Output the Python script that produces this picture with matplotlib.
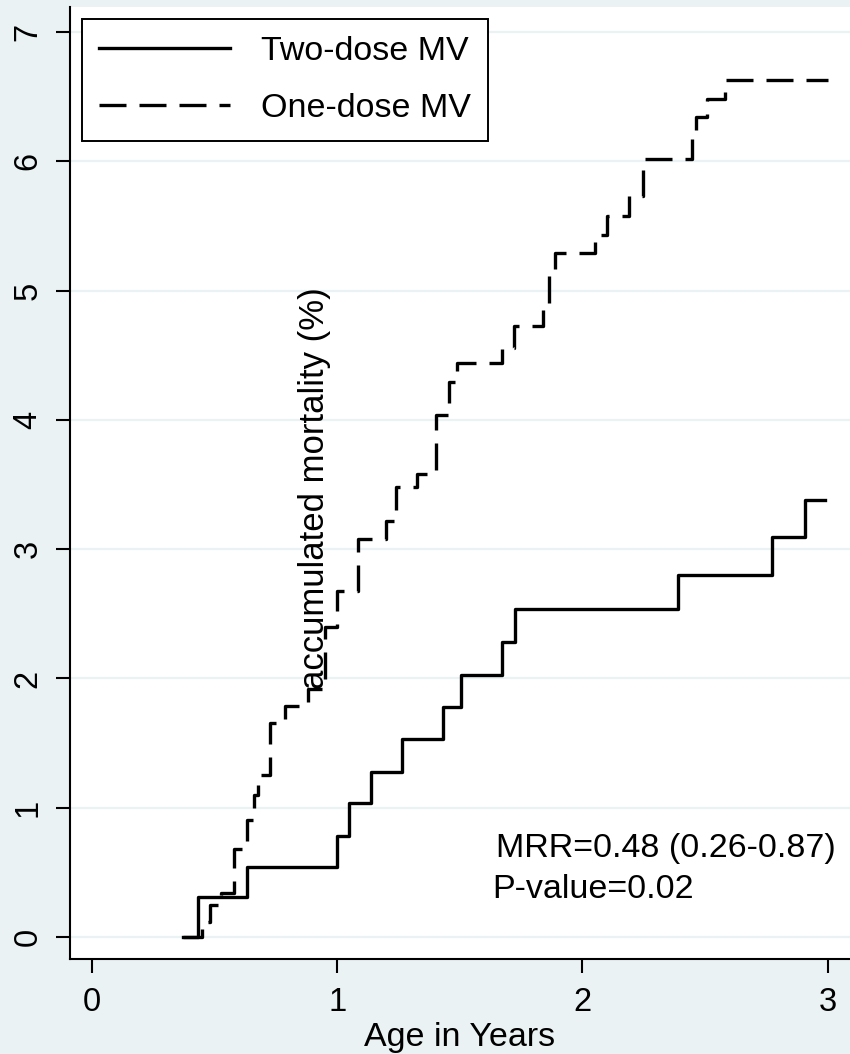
import matplotlib
matplotlib.use("Agg")
import matplotlib.pyplot as plt

# accumulated mortality (%) by age
two_dose_age = [0.37, 0.433, 0.632, 1.0, 1.048, 1.138, 1.264, 1.43, 1.505,
                1.672, 1.725, 2.39, 2.773, 2.908, 2.99]
two_dose_mort = [0, 0.31, 0.54, 0.78, 1.04, 1.28, 1.53, 1.78, 2.03,
                 2.28, 2.54, 2.80, 3.09, 3.38, 3.38]

one_dose_age = [0.37, 0.449, 0.482, 0.527, 0.578, 0.633, 0.660, 0.675, 0.725,
                0.788, 0.88, 0.948, 1.00, 1.085, 1.20, 1.24, 1.327, 1.404,
                1.457, 1.49, 1.67, 1.72, 1.84, 1.865, 1.89, 2.05, 2.10, 2.19,
                2.245, 2.445, 2.465, 2.506, 2.58, 3.0]
one_dose_mort = [0, 0.12, 0.25, 0.34, 0.68, 0.905, 1.10, 1.25, 1.655,
                 1.785, 1.92, 2.40, 2.68, 3.08, 3.22, 3.48, 3.58, 4.04,
                 4.29, 4.44, 4.555, 4.725, 4.86, 5.14, 5.29, 5.43, 5.575, 5.73,
                 6.02, 6.2, 6.34, 6.48, 6.63, 6.63]

x_ticks = [0, 1, 2, 3]
y_ticks = [0, 1, 2, 3, 4, 5, 6, 7]

bg = "#EAF2F3"
plt.rcParams["font.family"] = ["Liberation Sans", "DejaVu Sans"]

fig = plt.figure(figsize=(8.5, 10.54), dpi=100, facecolor=bg)
ax = fig.add_axes([0.0824, 0.0901, 0.9176, 0.9033])
ax.set_facecolor("white")

ax.step(two_dose_age, two_dose_mort, where="post", color="black", lw=2.4,
        label="Two-dose MV")
ax.step(one_dose_age, one_dose_mort, where="post", color="black", lw=2.4,
        dashes=(8.1, 3.9), label="One-dose MV")

ax.set_xlim(-0.0897, 3.091)
ax.set_ylim(-0.170, 7.193)
ax.set_xticks(x_ticks)
ax.set_yticks(y_ticks)

for s in ["top", "right"]:
    ax.spines[s].set_visible(False)
for s in ["left", "bottom"]:
    ax.spines[s].set_linewidth(1.5)

ax.tick_params(length=10, width=1.5, labelsize=23.5, pad=10)
ax.tick_params(axis="y", labelrotation=90, pad=9)
for lab in ax.get_yticklabels():
    lab.set_va("center")

ax.yaxis.grid(True, color=bg, lw=1.6)
ax.set_axisbelow(True)

ax.set_xlabel("Age in Years", fontsize=24.5, labelpad=3)

ax.text(0.906, 3.47, "accumulated mortality (%)", rotation=90, fontsize=25,
        ha="center", va="center")
ax.text(1.646, 0.688, "MRR=0.48 (0.26-0.87)", fontsize=24.5, ha="left", va="center")
ax.text(1.633, 0.37, "P-value=0.02", fontsize=24.5, ha="left", va="center")

leg = ax.legend(loc="upper left", bbox_to_anchor=(0.0154, 0.987), fontsize=24.5,
                frameon=True, fancybox=False, edgecolor="black", framealpha=1,
                handlelength=3.85, handletextpad=0.9, borderpad=0.5,
                labelspacing=0.75, borderaxespad=0)
leg.get_frame().set_linewidth(1.4)

fig.savefig("out.png", dpi=100, facecolor=bg)
